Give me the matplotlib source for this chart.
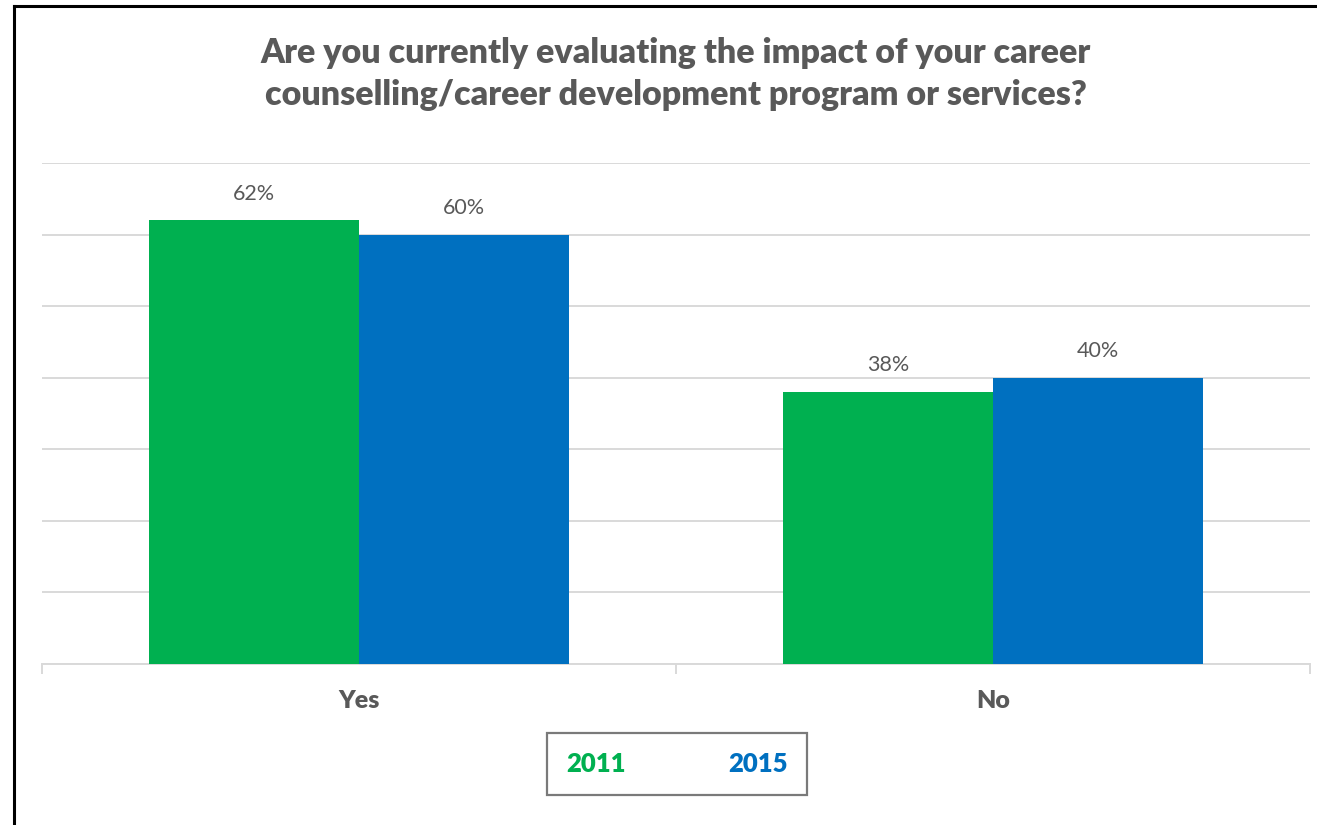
import numpy as np
import matplotlib.pyplot as plt

# survey answers, percent of respondents
categories = ['Yes', 'No']
years = ['2011', '2015']
pct_2011 = [62, 38]
pct_2015 = [60, 40]
colors = ['#00B050', '#0070C0']

plt.rcParams['font.family'] = ['Lato', 'DejaVu Sans']
text_gray = '#595959'
grid_gray = '#d9d9d9'

fig = plt.figure(figsize=(13.17, 8.25), dpi=100)
ax = fig.add_axes([42 / 1317, 1 - 664 / 825, 1268 / 1317, 501 / 825])

x = np.arange(len(categories))
width = 0.331
series = [pct_2011, pct_2015]
for i, (vals, col, yr) in enumerate(zip(series, colors, years)):
    offs = (i - 0.5) * width
    bars = ax.bar(x + offs, vals, width, color=col, label=yr, zorder=3)
    for b, v in zip(bars, vals):
        ax.annotate(f'{v}%', (b.get_x() + b.get_width() / 2, v),
                    xytext=(0, 12), textcoords='offset points',
                    ha='center', va='bottom', fontsize=15.5, color=text_gray)

ax.set_xlim(-0.5, 1.5)
ax.set_ylim(0, 70)
ax.set_yticks(np.arange(0, 71, 10))
ax.yaxis.grid(True, color=grid_gray, linewidth=1.4, zorder=0)
ax.tick_params(axis='y', length=0, labelleft=False)

ax.set_xticks(x)
ax.set_xticklabels(categories, fontsize=18, fontweight='heavy', color=text_gray)
ax.set_xticks([-0.5, 0.5, 1.5], minor=True)
ax.tick_params(axis='x', which='major', length=0, pad=19)
ax.tick_params(axis='x', which='minor', length=7, width=1.4, color=grid_gray)

for side in ['top', 'right', 'left']:
    ax.spines[side].set_visible(False)
ax.spines['bottom'].set_color(grid_gray)
ax.spines['bottom'].set_linewidth(1.4)

fig.text(0.513, 1 - 74 / 825,
         'Are you currently evaluating the impact of your career\n'
         'counselling/career development program or services?',
         ha='center', va='center', fontsize=24.5, fontweight='heavy',
         color=text_gray, linespacing=1.38)

leg = fig.legend(handlelength=0, handletextpad=0, ncol=2, columnspacing=4.0,
                 loc='center', bbox_to_anchor=(0.514, 1 - 764 / 825),
                 labelcolor=colors, prop={'size': 18.5, 'weight': 'heavy'},
                 frameon=True, fancybox=False, borderpad=0.75)
leg.get_frame().set_edgecolor(text_gray)
leg.get_frame().set_linewidth(1.6)
for h in leg.legend_handles:
    h.set_visible(False)

# outer frame, open on the right and bottom
fig.add_artist(plt.Line2D([14 / 1317, 14 / 1317], [0, 1 - 6 / 825],
                          color='black', linewidth=2.2))
fig.add_artist(plt.Line2D([14 / 1317, 1], [1 - 6 / 825, 1 - 6 / 825],
                          color='black', linewidth=2.2))

fig.savefig('out.png', dpi=100)
